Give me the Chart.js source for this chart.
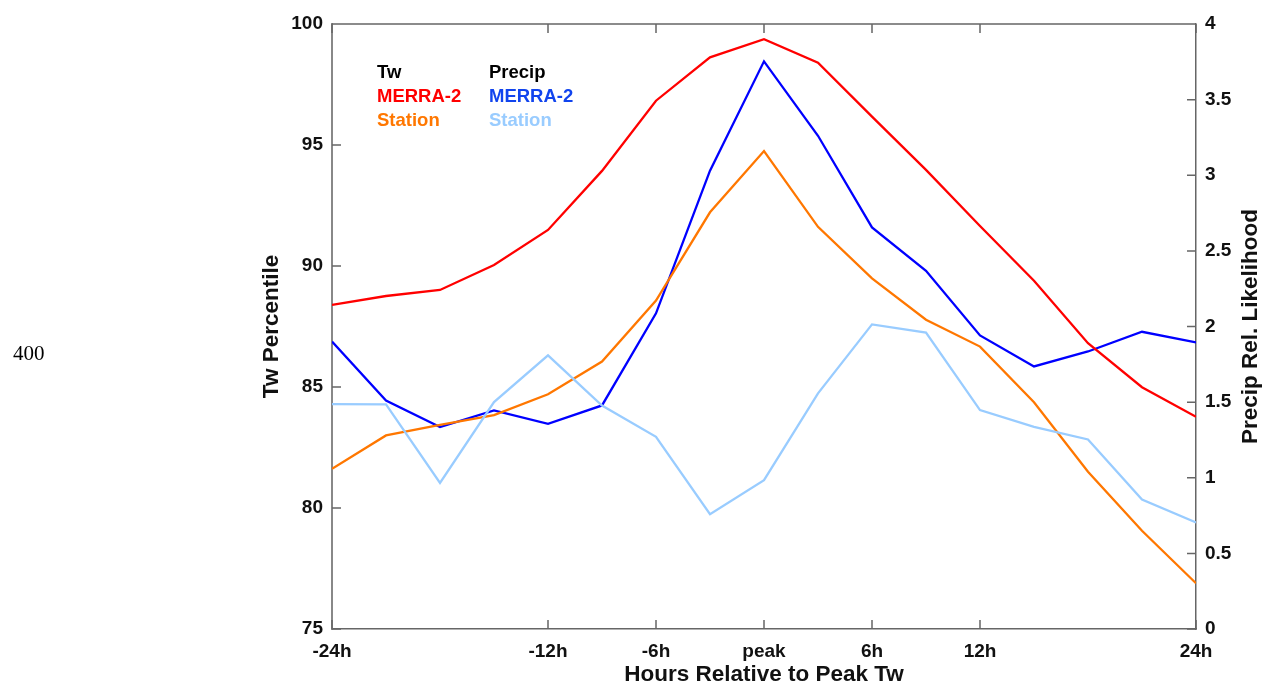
<!DOCTYPE html>
<html><head><meta charset="utf-8">
<script src="https://cdn.jsdelivr.net/npm/chart.js@4.4.1/dist/chart.umd.min.js"></script>
<style>
html,body{margin:0;padding:0;background:#fff;}
#wrap{position:relative;width:1262px;height:686px;overflow:hidden;}
#c{position:absolute;left:0;top:0;}
#side{position:absolute;left:13px;top:343px;font-family:"Liberation Serif","DejaVu Serif",serif;font-size:21px;line-height:1;color:#000;}
</style></head><body>
<div id="wrap"><canvas id="c" width="1262" height="686" style="width:1262px;height:686px"></canvas><div id="side">400</div></div>
<script>
// ---- data ----
const hours = [-24,-21,-18,-15,-12,-9,-6,-3,0,3,6,9,12,15,18,21,24];
const twMerra   = [88.39,88.76,89.01,90.04,91.49,93.93,96.83,98.62,99.37,98.40,96.17,93.97,91.65,89.39,86.81,84.99,83.77];
const twStation = [81.62,83.00,83.43,83.84,84.70,86.05,88.57,92.22,94.75,91.62,89.49,87.78,86.67,84.37,81.50,79.06,76.89];
const prMerra   = [1.90,1.51,1.335,1.445,1.356,1.478,2.087,3.03,3.753,3.261,2.655,2.368,1.941,1.736,1.835,1.965,1.895];
const prStation = [1.487,1.485,0.966,1.50,1.809,1.477,1.271,0.759,0.984,1.558,2.014,1.960,1.447,1.337,1.253,0.856,0.704];
const xTickValues = [-24,-12,-6,0,6,12,24];
const xTickLabels = ['-24h','-12h','-6h','peak','6h','12h','24h'];
const leftTicks = [75,80,85,90,95,100];
const rightTicks = [0,0.5,1,1.5,2,2.5,3,3.5,4];
const legendHeads = ['Tw','Precip'];
const legendRows = [['MERRA-2','Station'],['MERRA-2','Station']];
const xTitle = 'Hours Relative to Peak Tw';
const yTitle = 'Tw Percentile';
const y2Title = 'Precip Rel. Likelihood';

const C = {red:'#ff0000', orange:'#ff7700', blue:'#0000ff', light:'#99ccff'};
const FONT = '"Liberation Sans", Arial, sans-serif';

const pts = arr => hours.map((h,i)=>({x:h,y:arr[i]}));

const deco = {
  id:'deco',
  afterDraw(chart){
    const {ctx, chartArea:a, scales} = chart;
    ctx.save();
    ctx.strokeStyle='#666'; ctx.lineWidth=1.5;
    ctx.beginPath();
    ctx.moveTo(a.left,a.top); ctx.lineTo(a.right,a.top);
    const L=9;
    xTickValues.forEach(v=>{const x=scales.x.getPixelForValue(v);
      ctx.moveTo(x,a.bottom); ctx.lineTo(x,a.bottom-L);
      ctx.moveTo(x,a.top); ctx.lineTo(x,a.top+L);});
    leftTicks.forEach(v=>{const y=scales.y.getPixelForValue(v);
      ctx.moveTo(a.left,y); ctx.lineTo(a.left+L,y);});
    rightTicks.forEach(v=>{const y=scales.y2.getPixelForValue(v);
      ctx.moveTo(a.right,y); ctx.lineTo(a.right-L,y);});
    ctx.stroke();
    // titles
    ctx.fillStyle='#111';
    ctx.font='bold 22.5px '+FONT;
    ctx.textAlign='center'; ctx.textBaseline='middle';
    ctx.fillText(xTitle,(a.left+a.right)/2,675);
    const cy=(a.top+a.bottom)/2;
    ctx.save(); ctx.translate(272,cy); ctx.rotate(-Math.PI/2); ctx.fillText(yTitle,0,0); ctx.restore();
    ctx.save(); ctx.translate(1251,cy); ctx.rotate(-Math.PI/2); ctx.fillText(y2Title,0,0); ctx.restore();
    // legend
    ctx.font='bold 18.5px '+FONT;
    ctx.textAlign='left';
    const cols=[377,489];
    const colColors=[[C.red,'#ff7700'],['#1144ee',C.light]];
    legendHeads.forEach((h,i)=>{
      ctx.fillStyle='#000'; ctx.fillText(h,cols[i],73);
      legendRows[i].forEach((t,j)=>{ctx.fillStyle=colColors[i][j]; ctx.fillText(t,cols[i],97+24*j);});
    });
    ctx.restore();
  }
};

const tickFont = {family:FONT,weight:'bold',size:19};

new Chart(document.getElementById('c'),{
  type:'line',
  data:{datasets:[
    {label:'Precip Station',data:pts(prStation),yAxisID:'y2',borderColor:C.light,borderWidth:2.3},
    {label:'Tw Station',data:pts(twStation),yAxisID:'y',borderColor:C.orange,borderWidth:2.3},
    {label:'Tw MERRA-2',data:pts(twMerra),yAxisID:'y',borderColor:C.red,borderWidth:2.3},
    {label:'Precip MERRA-2',data:pts(prMerra),yAxisID:'y2',borderColor:C.blue,borderWidth:2.3}
  ].map(d=>Object.assign(d,{pointRadius:0,tension:0,fill:false}))},
  options:{
    responsive:false, animation:false,
    layout:{padding:{top:24,left:0,right:0,bottom:0}},
    plugins:{legend:{display:false},tooltip:{enabled:false}},
    scales:{
      x:{type:'linear',min:-24,max:24,position:'bottom',
        afterBuildTicks:s=>{s.ticks=xTickValues.map(v=>({value:v}));},
        afterFit:s=>{s.height=57;},
        ticks:{autoSkip:false,maxRotation:0,padding:11,color:'#111',font:tickFont,
          callback:(v)=>xTickLabels[xTickValues.indexOf(v)]},
        grid:{drawOnChartArea:false,drawTicks:false},
        border:{color:'#666',width:1.5}},
      y:{type:'linear',min:75,max:100,position:'left',
        afterBuildTicks:s=>{s.ticks=leftTicks.map(v=>({value:v}));},
        afterFit:s=>{s.width=332;},
        ticks:{padding:9,color:'#111',font:tickFont,callback:v=>String(v)},
        grid:{drawOnChartArea:false,drawTicks:false},
        border:{color:'#888',width:2}},
      y2:{type:'linear',min:0,max:4,position:'right',
        afterBuildTicks:s=>{s.ticks=rightTicks.map(v=>({value:v}));},
        afterFit:s=>{s.width=66;},
        ticks:{padding:9,color:'#111',font:tickFont,callback:v=>String(v)},
        grid:{drawOnChartArea:false,drawTicks:false},
        border:{color:'#666',width:1.5}}
    }
  },
  plugins:[deco]
});
</script>
</body></html>
